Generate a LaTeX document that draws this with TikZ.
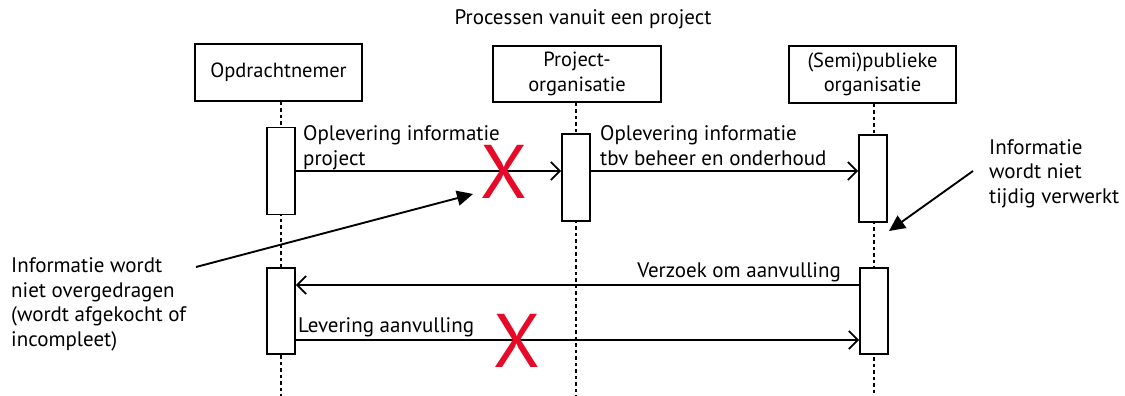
\documentclass[tikz,border=0pt]{standalone}
\usepackage{fontspec}
\setmainfont{PT Sans}
\usetikzlibrary{arrows.meta,calc}
\definecolor{xred}{RGB}{230,10,40}
\tikzset{
  actor/.style={draw, line width=1.8pt, fill=white, minimum width=167pt, minimum height=57pt, align=center, font=\fontsize{20.5}{24.5}\selectfont, inner sep=0pt},
  act/.style={draw, line width=1.8pt, fill=white, minimum width=28pt, minimum height=87pt, inner sep=0pt},
  life/.style={line width=1.8pt, dash pattern=on 3.5pt off 3pt},
  msg/.style={line width=2pt, -{Straight Barb[length=9pt,width=18pt,line width=1.8pt]}},
  note/.style={line width=1.9pt, -{Triangle[length=16pt,width=15pt]}},
  lbl/.style={font=\fontsize{21}{24.5}\selectfont, inner sep=0pt, align=left},
  cross/.style={text=xred, font=\fontsize{76}{76}\selectfont, inner sep=0pt}
}
\begin{document}
\begin{tikzpicture}[x=1pt,y=-1pt]
\useasboundingbox (0,0) rectangle (1125,396);
\node[lbl, anchor=base] (title) at (583,25) {Processen vanuit een project};
% actors
\node[actor] (opd) at (278.5,72.5) {Opdrachtnemer};
\node[actor, minimum width=168pt, minimum height=56pt] (proj) at (577,74) {Project-\\organisatie};
\node[actor] (semi) at (872.5,74.5) {(Semi)publieke\\organisatie};
% lifeline ends
\coordinate (opdend) at (281,396);
\coordinate (projend) at (576,396);
\coordinate (semiend) at (874,396);
\draw[life] (opd.south -| opdend) -- (opdend);
\draw[life] (proj.south -| projend) -- (projend);
\draw[life] (semi.south -| semiend) -- (semiend);
% activations
\node[act] (a1) at (281,171) {};
\node[act] (a2) at (576,177.5) {};
\node[act] (a3) at (873,178.5) {};
\node[act, minimum height=86pt] (a4) at (281,311) {};
\node[act, minimum height=86pt] (a5) at (874,311) {};
% messages
\draw[msg] (a1.east) -- (a2.west |- a1.east);
\draw[msg] (a2.east |- a1.east) -- (a3.west |- a1.east);
\coordinate (v) at (0,285);
\coordinate (l) at (0,340);
\draw[msg] (a5.west |- v) -- (a4.east |- v);
\draw[msg] (a4.east |- l) -- (a5.west |- l);
% message labels
\node[lbl, anchor=base west] (m1) at (303,165) {Oplevering informatie\\project};
\node[lbl, anchor=base west] (m2) at (600,165) {Oplevering informatie\\tbv beheer en onderhoud};
\node[lbl, anchor=base east] (m3) at (841,277) {Verzoek om aanvulling};
\node[lbl, anchor=base west] (m4) at (298,332) {Levering aanvulling};
% red crosses
\node[cross] (x1) at (504,172) {X};
\node[cross] (x2) at (517,341) {X};
% annotations
\node[lbl, anchor=base west] (n1) at (11,346) {Informatie wordt\\niet overgedragen\\(wordt afgekocht of\\incompleet)};
\node[lbl, anchor=base west] (n2) at (989,203) {Informatie\\wordt niet\\tijdig verwerkt};
\coordinate (n1s) at (196,267);
\coordinate (n1t) at (473,194);
\coordinate (n2s) at (973,171);
\coordinate (n2t) at (889,231);
\draw[note] (n1s) -- (n1t);
\draw[note] (n2s) -- (n2t);
\end{tikzpicture}
\end{document}
